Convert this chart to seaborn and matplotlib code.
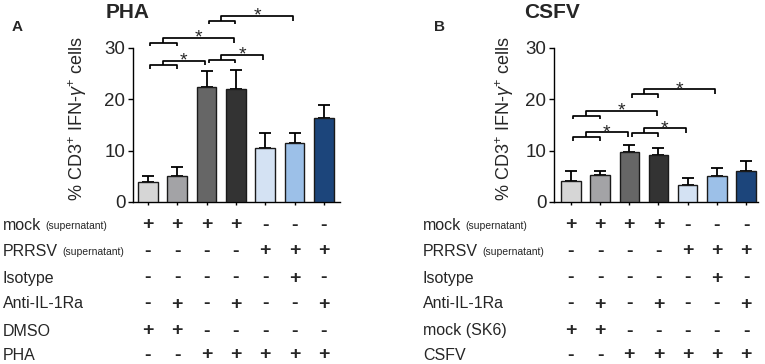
import numpy as np
import matplotlib
matplotlib.use("Agg")
import matplotlib.pyplot as plt
import seaborn as sns
import pandas as pd

# ---------------- data ----------------
conditions = ["c1", "c2", "c3", "c4", "c5", "c6", "c7"]
bar_colors = ["#d6d6d6", "#a3a3a6", "#666666", "#333333", "#cfe2f8", "#8fc0f5", "#0c438b"]

pha_means = [3.8, 5.1, 22.5, 22.0, 10.6, 11.4, 16.3]
pha_err = [1.3, 1.8, 3.0, 3.7, 2.8, 2.0, 2.6]

csfv_means = [4.0, 5.3, 9.7, 9.2, 3.4, 5.1, 6.0]
csfv_err = [2.0, 0.7, 1.4, 1.4, 1.2, 1.5, 2.0]

row_labels_a = [("mock", "(supernatant)"), ("PRRSV", "(supernatant)"), ("Isotype", ""),
                ("Anti-IL-1Ra", ""), ("DMSO", ""), ("PHA", "")]
row_labels_b = [("mock", "(supernatant)"), ("PRRSV", "(supernatant)"), ("Isotype", ""),
                ("Anti-IL-1Ra", ""), ("mock (SK6)", ""), ("CSFV", "")]
row_signs = [
    ["+", "+", "+", "+", "-", "-", "-"],
    ["-", "-", "-", "-", "+", "+", "+"],
    ["-", "-", "-", "-", "-", "+", "-"],
    ["-", "+", "-", "+", "-", "-", "+"],
    ["+", "+", "-", "-", "-", "-", "-"],
    ["-", "-", "+", "+", "+", "+", "+"],
]

# significance: (pair start, pair end, target, small-bracket level)
sig_a = [(0, 1, 2, 26.6), (0, 1, 3, 31.0), (2, 3, 4, 27.7), (2, 3, 5, 35.3)]
sig_b = [(0, 1, 2, 12.6), (0, 1, 3, 16.8), (2, 3, 4, 13.4), (2, 3, 5, 21.0)]

yticks = [0, 10, 20, 30]

# ---------------- style ----------------
sns.set_style("ticks")
plt.rcParams["font.family"] = ["Liberation Sans", "DejaVu Sans"]
plt.rcParams["mathtext.fontset"] = "custom"
plt.rcParams["mathtext.rm"] = "Liberation Sans"
plt.rcParams["mathtext.it"] = "Liberation Sans:italic"

W, H = 765, 364
fig = plt.figure(figsize=(W / 100, H / 100), dpi=100)


def fx(px):
    return px / W


def fy(py):
    return 1 - py / H


def panel(left_px, right_px, xlim, means, errs, sigs, title, title_x, letter, letter_x,
          ylab_x, row_labels, row_label_x):
    ax = fig.add_axes([fx(left_px), fy(202), fx(right_px - left_px), (202 - 48) / H])
    df = pd.DataFrame({"cond": conditions, "val": means})
    sns.barplot(data=df, x="cond", y="val", hue="cond", palette=bar_colors, legend=False,
                width=0.67, edgecolor="#1a1a1a", linewidth=1.0, ax=ax, zorder=3)
    xs = np.arange(len(means))
    ax.errorbar(xs, means, yerr=[np.zeros(len(errs)), errs], fmt="none", ecolor="black",
                elinewidth=1.3, capsize=4.5, capthick=1.3, zorder=2)
    ax.set_xlim(*xlim)
    ax.set_ylim(0, 30)
    ax.set_yticks(yticks)
    ax.set_xticks(xs)
    ax.set_xticklabels([])
    ax.set_xlabel("")
    ax.tick_params(axis="x", length=2.5, width=1, direction="out", color="black")
    ax.tick_params(axis="y", length=3.5, width=1, direction="out", labelsize=13.5, pad=2,
                   color="black")
    for s in ["top", "right"]:
        ax.spines[s].set_visible(False)
    for s in ["left", "bottom"]:
        ax.spines[s].set_color("black")
        ax.spines[s].set_linewidth(1.0)
    ax.set_ylabel(r"% CD3$^{+}$ IFN-$\gamma^{+}$ cells", fontsize=13)
    ax.yaxis.label.set_va("center")
    ax.yaxis.set_label_coords((ylab_x - left_px) / (right_px - left_px), 0.54)

    # significance brackets
    lw = 1.25
    for a, b, t, ys in sigs:
        leg = 0.7
        ym = ys + 0.95
        x0, x1 = a + 0.08, b - 0.02
        ax.plot([x0, x0, x1, x1], [ys - leg, ys, ys, ys - leg], color="black", lw=lw,
                clip_on=False, solid_capstyle="butt")
        mid = (a + b) / 2
        xt = t - 0.06
        ax.plot([mid, mid, xt, xt], [ys, ym, ym, ys], color="black", lw=lw,
                clip_on=False, solid_capstyle="butt")
        ax.annotate("*", xy=((mid + xt) / 2, ym), xytext=(0, -3.4), textcoords="offset points",
                    ha="center", va="baseline", fontsize=14, annotation_clip=False)

    # title and panel letter
    fig.text(fx(title_x), fy(13), title, fontsize=15, fontweight="bold", ha="center",
             va="center")
    fig.text(fx(letter_x), fy(27), letter, fontsize=11, fontweight="bold", ha="center",
             va="center")

    # condition table
    row_y = [225, 251, 278, 304, 331, 355]
    trans = matplotlib.transforms.blended_transform_factory(ax.transData, fig.transFigure)
    for (main, small), signs, ry in zip(row_labels, row_signs, row_y):
        t = fig.text(fx(row_label_x), fy(ry), main, fontsize=11.5, ha="left", va="center")
        if small:
            ax.annotate(small, xy=(1, 0), xycoords=t, xytext=(3, 1), textcoords="offset points",
                        fontsize=7.5, ha="left", va="bottom", annotation_clip=False)
        for i, sg in enumerate(signs):
            ax.text(i, fy(ry), sg, transform=trans, fontsize=14, fontweight="bold",
                    ha="center", va="center", clip_on=False)
    return ax


panel(133, 340, (-0.51, 6.55), pha_means, pha_err, sig_a, "PHA", 128, "A", 17, 78,
      row_labels_a, 3)
panel(554, 758, (-0.58, 6.41), csfv_means, csfv_err, sig_b, "CSFV", 552, "B", 440, 505,
      row_labels_b, 423)

fig.savefig("out.png", dpi=100)
